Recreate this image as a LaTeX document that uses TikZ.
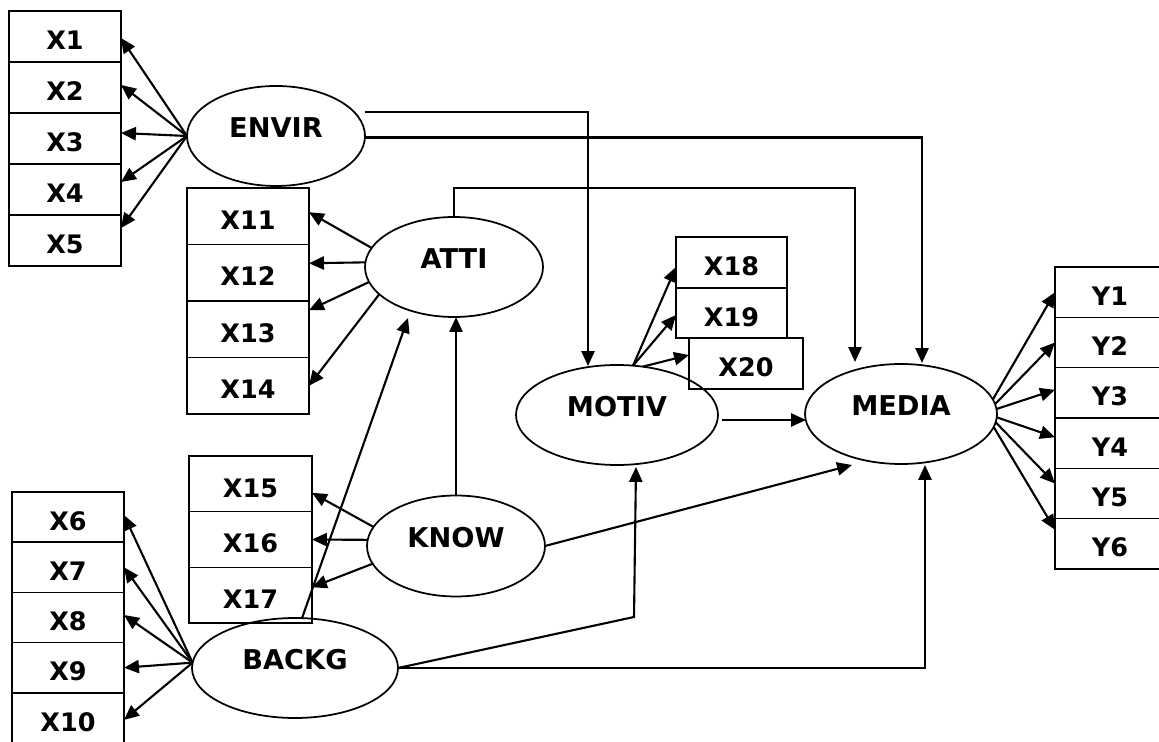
\documentclass[tikz,border=0pt]{standalone}
\usepackage{fontspec}
\setmainfont{DejaVu Sans}
\usetikzlibrary{arrows.meta,calc,shapes.geometric}
\begin{document}
\begin{tikzpicture}[x=0.02cm,y=-0.02cm,
  box/.style={draw, line width=0.9pt, inner sep=0pt, outer sep=0pt,
    font=\fontsize{14.5}{14.5}\selectfont\bfseries, text height=15pt, text depth=0pt},
  bxA/.style={box, minimum width=112*0.02cm, minimum height=51*0.02cm},
  bxB/.style={box, minimum width=122*0.02cm, minimum height=56.5*0.02cm},
  bxC/.style={box, minimum width=123*0.02cm, minimum height=55.7*0.02cm},
  bxD/.style={box, minimum width=112*0.02cm, minimum height=50.2*0.02cm},
  bxE/.style={box, minimum width=111*0.02cm, minimum height=50.5*0.02cm},
  bxF/.style={box, minimum width=114*0.02cm, minimum height=51*0.02cm},
  bxY/.style={box, minimum width=110*0.02cm, minimum height=50.33*0.02cm},
  lat/.style={draw, ellipse, line width=1pt, inner sep=0pt, outer sep=0pt,
    font=\fontsize{15.5}{15.5}\selectfont\bfseries, text height=11.3pt, text depth=10pt},
  arr/.style={line width=1.2pt, -{Triangle[length=8.5pt,width=7.5pt]}},
]
\useasboundingbox (0,0) rectangle (1159,742);
\clip (0,0) rectangle (1159,742);

% indicator boxes
\node[bxA] (x1) at (65,36.5) {X1};
\node[bxA] (x2) at (65,87.5) {X2};
\node[bxA] (x3) at (65,138.5) {X3};
\node[bxA] (x4) at (65,189.5) {X4};
\node[bxA] (x5) at (65,240.5) {X5};

\node[bxB] (x11) at (248,216.25) {X11};
\node[bxB] (x12) at (248,272.75) {X12};
\node[bxB] (x13) at (248,329.25) {X13};
\node[bxB] (x14) at (248,385.75) {X14};

\node[bxC] (x15) at (250.5,483.85) {X15};
\node[bxC] (x16) at (250.5,539.55) {X16};
\node[bxC] (x17) at (250.5,595.25) {X17};

\node[bxD] (x6) at (68,517.1) {X6};
\node[bxD] (x7) at (68,567.3) {X7};
\node[bxD] (x8) at (68,617.5) {X8};
\node[bxD] (x9) at (68,667.7) {X9};
\node[bxD] (x10) at (68,717.9) {X10};

\node[bxE] (x18) at (731.5,262.5) {X18};
\node[bxE] (x19) at (731.5,313) {X19};
\node[bxF] (x20) at (746,363.5) {X20};

\node[bxY] (y1) at (1110,292.2) {Y1};
\node[bxY] (y2) at (1110,342.5) {Y2};
\node[bxY] (y3) at (1110,392.8) {Y3};
\node[bxY] (y4) at (1110,443.2) {Y4};
\node[bxY] (y5) at (1110,493.5) {Y5};
\node[bxY] (y6) at (1110,543.8) {Y6};

% latent variables
\node[lat, minimum width=178*0.02cm, minimum height=100*0.02cm] (envir) at (276,136) {ENVIR};
\node[lat, minimum width=178*0.02cm, minimum height=100*0.02cm] (atti) at (454,267) {ATTI};
\node[lat, minimum width=178*0.02cm, minimum height=101*0.02cm] (know) at (456,546) {KNOW};
\node[lat, minimum width=206*0.02cm, minimum height=100*0.02cm] (backg) at (295,668) {BACKG};
\node[lat, minimum width=202*0.02cm, minimum height=100*0.02cm] (motiv) at (617,415) {MOTIV};
\node[lat, minimum width=192*0.02cm, minimum height=100*0.02cm] (media) at (901,414) {MEDIA};

% measurement arrows
\foreach \t/\d in {x1/1.5,x2/-2.5,x3/-5.5,x4/-7.5,x5/-12.5}
  \draw[arr] (envir.west) -- ($(\t.east)+(0,\d)$);
\foreach \a/\t/\d in {167/x11/-4,177/x12/-9.5,190/x13/-19,200/x14/0}
  \draw[arr] (atti.\a) -- ($(\t.east)+(0,\d)$);
\foreach \a/\t/\d in {167/x15/9,176/x16/0,192/x17/-8}
  \draw[arr] (know.\a) -- ($(\t.east)+(0,\d)$);
\foreach \t/\d in {x6/-2,x7/0,x8/-2.5,x9/0,x10/2}
  \draw[arr] (backg.177) -- ($(\t.east)+(0,\d)$);
\foreach \a/\t/\d in {72/x18/4.5,72/x19/2,62/x20/-8.5}
  \draw[arr] (motiv.\a) -- ($(\t.west)+(0,\d)$);
\foreach \a/\t/\d in {9/y1/0,6/y2/0,3/y3/-3,-2/y4/-6,-5/y5/-10,-8/y6/-14}
  \draw[arr] (media.\a) -- ($(\t.west)+(0,\d)$);

% structural paths
\draw[arr] ($(envir.east)+(0,-24)$) -| ($(motiv.north)+(-29,1)$);
\draw[arr] ($(envir.east)+(0,1.5)$) -| ($(media.north)+(21,-1)$);
\draw[arr] (atti.north) -- ++(0,-29) -| ($(media.north)+(-46,-2)$);
\draw[arr] (know.north) -- (know.north |- atti.south);
\draw[arr] (backg.82) -- ($(atti.center)+(-46,51)$);
\draw[arr] (know.east) -- ($(media.center)+(-49,51)$);
\draw[arr] (backg.east) -| ($(media.south)+(24,1)$);
\draw[arr] (backg.east) -- ($(motiv.south)+(17,152)$) -- ($(motiv.south)+(19,2)$);
\draw[arr] ($(motiv.east)+(4,5)$) -- ($(media.west)+(1,6)$);
\end{tikzpicture}
\end{document}
